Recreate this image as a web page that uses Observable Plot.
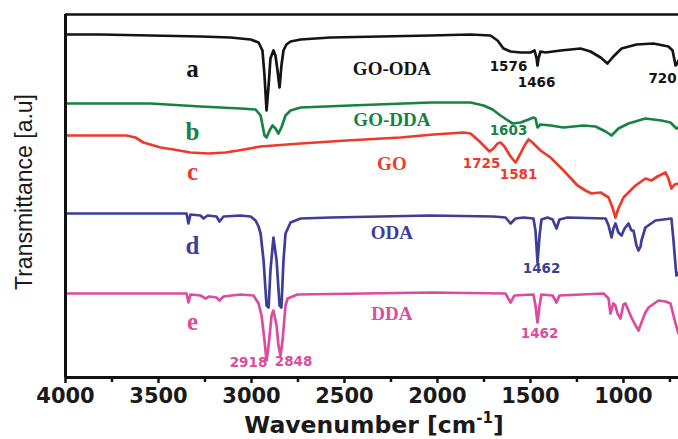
<!DOCTYPE html>
<html>
<head>
<meta charset="utf-8">
<script src="https://cdn.jsdelivr.net/npm/d3@7"></script>
<script src="https://cdn.jsdelivr.net/npm/@observablehq/plot@0.6"></script>
<style>
  html, body { margin: 0; padding: 0; background: #fff; }
  svg { display: block; }
</style>
</head>
<body>
<script>
// ---- Data: FTIR spectra (wavenumber cm^-1, transmittance in arbitrary units, offset stacked) ----
const goOda = [
  [4000,343],[3812,343],[3543,342],[3274,341],[3113,340],[3005,338],[2962,335],[2941,327],[2930,302],[2919,267],
  [2908,292],[2898,319],[2882,327],[2871,322],[2860,307],[2849,290],[2839,312],[2828,327],[2812,333],[2790,336],
  [2736,338],[2575,340],[2306,341],[2037,342],[1822,343],[1715,342],[1677,337],[1645,329],[1607,326],[1553,325],
  [1500,325],[1478,327],[1467,319],[1462,312],[1457,319],[1446,326],[1419,325],[1338,327],[1231,329],[1177,326],
  [1123,320],[1086,314],[1054,321],[1010,329],[930,333],[839,334],[758,331],[736,327],[725,317],[720,312],[715,313],[704,317]
];
const goDda = [
  [4000,274],[3812,274],[3543,274],[3274,271],[3059,269],[2978,268],[2951,262],[2930,242],[2919,240],[2903,247],
  [2887,252],[2871,249],[2855,244],[2839,250],[2817,262],[2790,267],[2736,270],[2468,272],[2037,275],[1822,275],
  [1752,272],[1704,268],[1661,262],[1629,258],[1596,254],[1553,255],[1510,258],[1484,260],[1473,259],[1462,250],
  [1446,253],[1392,252],[1322,250],[1215,252],[1150,251],[1096,246],[1064,242],[1027,249],[973,254],[882,259],
  [796,257],[747,255],[715,249],[704,250]
];
const go = [
  [4000,242],[3812,242],[3672,242],[3624,240],[3581,235],[3489,230],[3419,228],[3328,225],[3231,224],[3140,225],
  [3070,227],[2951,231],[2736,234],[2489,237],[2199,240],[2021,243],[1860,245],[1822,244],[1779,237],[1747,231],
  [1720,226],[1699,229],[1677,234],[1661,235],[1640,231],[1607,221],[1580,215],[1559,222],[1532,232],[1510,238],
  [1489,235],[1446,227],[1392,220],[1322,207],[1247,192],[1204,187],[1172,184],[1123,185],[1080,180],[1059,170],
  [1043,160],[1027,169],[1000,180],[973,185],[935,192],[882,199],[850,197],[817,201],[774,205],[758,199],
  [742,189],[725,193],[704,194]
];
const oda = [
  [4000,164],[3543,164],[3349,164],[3339,154],[3328,163],[3274,162],[3258,159],[3236,162],[3188,161],[3172,156],
  [3150,161],[3059,162],[3005,161],[2978,157],[2962,151],[2951,144],[2935,117],[2919,72],[2908,70],[2898,107],
  [2882,140],[2865,117],[2849,72],[2839,70],[2828,117],[2817,144],[2790,155],[2736,159],[2575,160],[2037,162],
  [1699,161],[1634,160],[1607,154],[1580,159],[1537,160],[1484,159],[1473,147],[1462,115],[1451,142],[1441,158],
  [1408,160],[1381,158],[1360,149],[1344,158],[1301,160],[1096,159],[1080,152],[1064,140],[1054,149],[1043,154],
  [1027,145],[1010,142],[994,149],[973,154],[957,147],[946,147],[930,132],[919,127],[908,131],[903,137],
  [882,150],[828,157],[742,159],[731,137],[720,112],[715,102],[704,105]
];
const dda = [
  [4000,84],[3543,84],[3349,84],[3339,75],[3328,83],[3274,82],[3247,79],[3226,81],[3188,80],[3172,77],
  [3150,81],[3059,83],[2989,82],[2962,74],[2946,62],[2930,37],[2919,17],[2908,32],[2892,62],[2882,67],
  [2865,52],[2855,32],[2844,22],[2833,37],[2817,72],[2806,79],[2753,83],[2037,85],[1634,84],[1607,75],
  [1586,82],[1484,83],[1473,72],[1462,55],[1451,72],[1441,83],[1381,82],[1360,75],[1344,82],[1107,84],
  [1080,79],[1070,64],[1054,74],[1043,72],[1032,64],[1016,59],[1000,73],[989,74],[973,67],[957,60],
  [935,52],[919,47],[903,55],[882,65],[865,70],[812,77],[774,76],[747,74],[731,62],[720,54],[704,44]
];

const sampleNames = ["GO-ODA", "GO-DDA", "GO", "ODA", "DDA"];
const sampleLetters = ["a", "b", "c", "d", "e"];
const spectra = [goOda, goDda, go, oda, dda];
const colors = ["#141414", "#168343", "#ec3a2d", "#3c3e98", "#dc4c9e"];

// annotation anchors (wavenumber, a.u.)
const letterWn = 3317;
const letterT = [309, 246, 206, 132, 56];
const nameWn = 2245;
const nameT = [309, 258, 214, 145, 64];
const peakLabels = [
  {text: "1576", s: 0, wn: 1618, t: 311},
  {text: "1466", s: 0, wn: 1467, t: 295},
  {text: "720",  s: 0, wn: 790,  t: 299},
  {text: "1603", s: 1, wn: 1618, t: 247},
  {text: "1725", s: 2, wn: 1763, t: 214},
  {text: "1581", s: 2, wn: 1564, t: 203},
  {text: "1462", s: 3, wn: 1440, t: 109},
  {text: "1462", s: 4, wn: 1451, t: 44},
  {text: "2918", s: 4, wn: 3016, t: 15},
  {text: "2848", s: 4, wn: 2774, t: 16}
];
const majorTicks = [4000, 3500, 3000, 2500, 2000, 1500, 1000];
const minorTicks = [3750, 3250, 2750, 2250, 1750, 1250, 750];

const xDomain = [4000, 704];
const yDomain = [0, 363];

const lineMarks = spectra.map((s, i) =>
  Plot.line(s, {x: d => d[0], y: d => d[1], stroke: colors[i], strokeWidth: 2.7, strokeLinejoin: "round"})
);

const letterData = sampleLetters.map((l, i) => ({text: l, wn: letterWn, t: letterT[i], c: colors[i]}));
const nameData = sampleNames.map((n, i) => ({text: n, wn: nameWn, t: nameT[i], c: colors[i]}));
const peakData = peakLabels.map(p => ({...p, c: colors[p.s]}));

const chart = Plot.plot({
  width: 678,
  height: 439,
  marginLeft: 65,
  marginRight: 0,
  marginTop: 14,
  marginBottom: 62,
  style: {background: "#fff", color: "#111"},
  x: {domain: xDomain},
  y: {domain: yDomain, axis: null},
  marks: [
    Plot.axisX(minorTicks, {tickSize: 5, tickFormat: () => "", strokeWidth: 2.5, label: null}),
    Plot.axisX(majorTicks, {tickSize: 6, tickPadding: 5, strokeWidth: 2.5, label: null,
      fontSize: 21, fontWeight: "bold", fontFamily: "DejaVu Sans", fill: "#1a1a1a", tickFormat: d => String(d)}),
    ...lineMarks,
    Plot.ruleY([yDomain[1]], {stroke: "#111", strokeWidth: 2.5}),
    Plot.ruleY([yDomain[0]], {stroke: "#111", strokeWidth: 3}),
    Plot.ruleX([xDomain[0]], {stroke: "#111", strokeWidth: 3}),
    Plot.text(letterData, {x: "wn", y: "t", text: "text", fill: "c", fontSize: 25, fontWeight: "bold",
      fontFamily: "Liberation Serif"}),
    Plot.text(nameData, {x: "wn", y: "t", text: "text", fill: "c", fontSize: 19, fontWeight: "bold",
      fontFamily: "Liberation Serif"}),
    Plot.text(peakData, {x: "wn", y: "t", text: "text", fill: "c", fontSize: 13.5, fontWeight: "bold",
      fontFamily: "DejaVu Sans"})
  ]
});

const svg = d3.select(chart);
svg.append("text")
  .attr("transform", "translate(26,192) rotate(-90)")
  .attr("text-anchor", "middle")
  .attr("dominant-baseline", "middle")
  .attr("font-family", "Liberation Sans")
  .attr("font-size", 23)
  .attr("fill", "#1a1a1a")
  .text("Transmittance [a.u]");

const xt = svg.append("text")
  .attr("x", 374)
  .attr("y", 433)
  .attr("text-anchor", "middle")
  .attr("font-family", "DejaVu Sans")
  .attr("font-weight", "bold")
  .attr("font-size", 23.5)
  .attr("fill", "#1a1a1a");
xt.append("tspan").text("Wavenumber [cm");
xt.append("tspan").attr("dy", -10).attr("font-size", 15).text("-1");
xt.append("tspan").attr("dy", 10).text("]");

document.body.appendChild(chart);
</script>
</body>
</html>
